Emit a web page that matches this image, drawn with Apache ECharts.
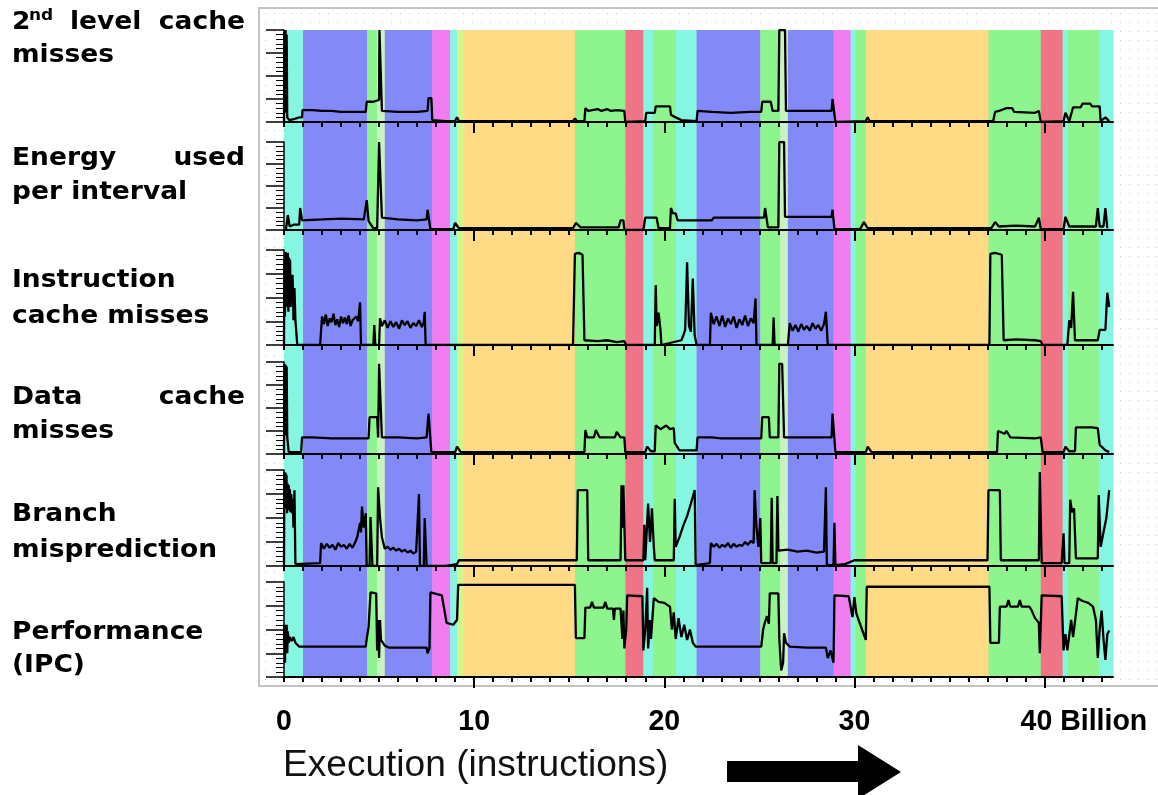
<!DOCTYPE html>
<html><head><meta charset="utf-8">
<script src="https://cdn.jsdelivr.net/npm/echarts@6/dist/echarts.min.js"></script>
<style>html,body{margin:0;padding:0;background:#fff}#c{width:1158px;height:795px}</style>
</head><body><div id="c"></div>
<script>
// ---------------- data ----------------
const xMax = 43.6; // billions of instructions shown
const tickValues = [0, 10, 20, 30, 40];
const tickLabels = ['0', '10', '20', '30', '40 Billion'];
const axisTitle = 'Execution (instructions)';

const panelLabelLines = [
  ['2nd level cache', 'misses'],
  ['Energy used', 'per interval'],
  ['Instruction', 'cache misses'],
  ['Data cache', 'misses'],
  ['Branch', 'misprediction'],
  ['Performance', '(IPC)']
];

// phase bands: start, end (billions), phase id
const bandStarts = [0, 1.0, 4.37, 4.9, 5.3, 7.79, 8.74, 9.1, 9.42, 15.3, 17.95, 18.9, 19.4, 20.6, 21.7, 25.05, 26.1, 26.5, 28.9, 29.8, 30.05, 30.6, 37.05, 39.8, 40.95, 41.2, 42.85];
const bandEnds   = [1.0, 4.37, 4.9, 5.3, 7.79, 8.74, 9.1, 9.42, 15.3, 17.95, 18.9, 19.4, 20.6, 21.7, 25.05, 26.1, 26.5, 28.9, 29.8, 30.05, 30.6, 37.05, 39.8, 40.95, 41.2, 42.85, 43.6];
const bandPhases = ['C','B','G','P','B','M','C','L','Y','G','R','C','G','C','B','G','P','B','M','C','G','Y','G','R','C','G','C'];

const l2Misses = [[0,0],[0.02,98],[0.05,10],[0.08,100],[0.11,20],[0.14,95],[0.17,5],[0.3,2],[0.5,3],[0.55,2],[0.8,5],[0.95,5],[0.97,13],[1.5,13],[2.0,12],[2.5,12],[3.0,11],[3.5,11],[4.3,11],[4.35,22],[4.7,22],[4.75,24],[5.0,24],[5.02,100],[5.12,100],[5.15,12],[6.0,11],[7.0,11],[7.55,12],[7.6,26],[7.75,26],[7.8,2],[8.5,1],[9.0,1],[9.1,5],[9.2,1],[15.2,1],[15.3,4],[15.4,1],[15.8,1],[15.85,15],[16.0,12],[16.5,14],[16.7,12],[17.0,14],[17.2,12],[17.5,13],[17.9,12],[17.95,0],[19.0,1],[19.05,10],[19.5,10],[19.55,17],[20.3,17],[20.35,8],[20.6,5],[20.9,2],[21.7,1],[21.75,12],[22.5,11],[23.5,10],[24.5,11],[25.1,11],[25.15,22],[25.6,22],[25.7,12],[26.0,12],[26.05,100],[26.35,100],[26.4,12],[27.5,12],[28.8,12],[28.85,25],[28.95,25],[29.0,0],[30.6,1],[30.7,5],[30.8,1],[37.3,1],[37.4,11],[37.6,12],[38.0,15],[38.3,15],[38.4,11],[39.5,10],[39.7,12],[39.8,0],[41.0,1],[41.1,10],[41.3,1],[41.5,16],[41.9,16],[42.0,20],[42.4,20],[42.5,17],[42.9,17],[42.95,1],[43.2,5],[43.4,1]];

const energy = [[0.1,0],[0.2,17],[0.3,4],[0.5,6],[0.8,6],[0.85,25],[0.95,11],[2.0,12],[3.0,13],[4.2,12],[4.3,12],[4.35,34],[4.45,10],[4.7,2],[4.9,2],[5.0,100],[5.1,100],[5.15,14],[6.0,12],[7.0,11],[7.5,12],[7.55,23],[7.65,23],[7.7,1],[8.9,1],[9.0,8],[9.2,2],[15.2,2],[15.35,8],[15.6,3],[17.6,3],[17.7,11],[17.85,11],[17.9,0],[18.9,0],[19.0,14],[19.6,14],[19.7,2],[20.3,2],[20.35,25],[20.45,19],[20.6,19],[20.7,11],[21.5,11],[22.5,11],[22.6,14],[24.6,14],[25.25,14],[25.3,25],[25.45,3],[26.0,3],[26.05,100],[26.3,100],[26.35,15],[27.5,15],[28.8,15],[28.85,23],[28.95,1],[30.3,1],[30.5,9],[30.7,2],[37.2,2],[37.4,9],[37.6,4],[38.5,5],[39.5,4],[39.7,14],[39.8,1],[41.0,1],[41.1,15],[41.3,4],[42.7,4],[42.8,25],[42.9,4],[43.1,4],[43.2,25],[43.3,2]];

const icacheMisses = [[0,0],[0.02,90],[0.05,30],[0.08,98],[0.11,40],[0.14,95],[0.17,50],[0.2,97],[0.23,35],[0.26,92],[0.29,55],[0.32,90],[0.35,40],[0.38,74],[0.42,60],[0.45,74],[0.5,26],[0.55,60],[0.6,26],[0.7,0],[1.9,0],[2.0,30],[2.1,22],[2.2,32],[2.3,20],[2.4,28],[2.5,24],[2.6,33],[2.7,21],[2.8,27],[2.9,19],[3.0,30],[3.1,23],[3.2,29],[3.3,22],[3.4,31],[3.5,20],[3.6,26],[3.7,24],[3.8,30],[3.9,25],[4.0,45],[4.05,0],[4.7,0],[4.75,21],[4.8,0],[5.0,0],[5.05,28],[5.15,20],[5.3,26],[5.45,18],[5.6,25],[5.75,19],[5.9,24],[6.05,17],[6.2,26],[6.35,21],[6.5,25],[6.65,18],[6.8,23],[6.95,20],[7.1,26],[7.25,19],[7.35,24],[7.4,35],[7.45,0],[15.2,0],[15.3,96],[15.5,97],[15.7,95],[15.8,5],[16.5,4],[17.0,5],[17.5,3],[17.9,4],[18.0,0],[19.5,0],[19.55,63],[19.6,20],[19.7,34],[19.8,16],[19.85,0],[20.9,5],[21.0,10],[21.1,16],[21.2,87],[21.3,20],[21.4,14],[21.5,70],[21.6,10],[21.7,0],[22.4,0],[22.45,34],[22.6,22],[22.75,30],[22.9,20],[23.05,31],[23.2,19],[23.35,28],[23.5,22],[23.65,30],[23.8,18],[23.95,27],[24.1,21],[24.25,31],[24.4,20],[24.55,28],[24.7,23],[24.8,49],[24.85,0],[25.7,0],[25.75,29],[25.8,0],[26.5,0],[26.6,23],[26.75,15],[26.9,21],[27.05,14],[27.2,22],[27.35,16],[27.5,20],[27.65,15],[27.8,23],[27.95,17],[28.1,21],[28.25,15],[28.4,22],[28.5,35],[28.6,0],[37.1,0],[37.15,96],[37.4,97],[37.75,95],[37.85,5],[38.5,6],[39.5,5],[39.8,4],[39.9,0],[41.2,0],[41.3,26],[41.4,18],[41.5,56],[41.6,5],[42.8,5],[42.9,16],[43.2,16],[43.3,55],[43.4,40]];

const dcacheMisses = [[0,0],[0.02,98],[0.05,20],[0.08,97],[0.11,30],[0.14,95],[0.17,18],[0.2,18],[0.25,2],[0.9,2],[0.95,18],[1.5,18],[2.5,17],[3.5,17],[4.45,17],[4.5,40],[4.9,40],[4.95,18],[5.0,98],[5.1,98],[5.15,18],[6.0,18],[7.0,17],[7.5,18],[7.6,44],[7.7,44],[7.75,2],[9.0,2],[9.1,8],[9.3,2],[15.8,2],[15.85,26],[15.95,18],[16.3,18],[16.4,26],[16.6,18],[17.0,18],[17.4,18],[17.5,24],[17.7,18],[17.9,18],[17.95,2],[19.0,2],[19.1,8],[19.3,3],[19.5,3],[19.55,31],[19.8,27],[20.1,31],[20.3,27],[20.5,28],[20.55,12],[20.8,4],[21.7,4],[21.75,18],[22.5,18],[23.0,17],[24.0,17],[25.1,17],[25.15,40],[25.5,40],[25.55,18],[26.0,18],[26.05,98],[26.2,98],[26.3,18],[27.5,18],[28.8,18],[28.85,44],[28.95,44],[29.0,2],[30.6,2],[30.7,8],[30.9,2],[37.5,2],[37.55,25],[37.9,22],[38.0,25],[38.2,18],[39.5,17],[39.8,18],[39.9,2],[41.0,2],[41.1,8],[41.3,3],[41.6,3],[41.65,29],[42.5,29],[42.8,28],[42.9,10],[43.2,4],[43.4,2]];

const branchMispred = [[0,0],[0.02,98],[0.05,60],[0.08,97],[0.1,70],[0.13,95],[0.16,55],[0.19,86],[0.22,58],[0.25,84],[0.28,60],[0.31,80],[0.34,56],[0.38,75],[0.42,55],[0.45,70],[0.5,40],[0.55,79],[0.6,2],[0.7,3],[1.9,3],[1.95,24],[2.1,18],[2.25,23],[2.4,19],[2.55,22],[2.7,17],[2.85,24],[3.0,20],[3.15,22],[3.3,18],[3.45,23],[3.6,19],[3.75,25],[3.85,30],[4.0,45],[4.05,35],[4.1,62],[4.2,40],[4.3,55],[4.35,0],[4.5,0],[4.55,51],[4.65,0],[4.9,0],[4.95,82],[5.05,50],[5.15,30],[5.3,18],[5.45,20],[5.6,17],[5.75,19],[5.9,16],[6.05,18],[6.2,15],[6.35,17],[6.5,14],[6.65,16],[6.8,13],[6.95,15],[7.05,13],[7.1,75],[7.15,0],[7.35,0],[7.4,50],[7.5,0],[8.5,0],[9.1,2],[9.2,6],[10.0,6],[10.05,7],[10.1,6],[12.1,6],[12.15,7],[12.2,6],[13.8,6],[13.85,7],[13.9,6],[15.4,6],[15.45,79],[15.95,79],[16.0,6],[17.7,6],[17.75,84],[17.8,40],[17.85,84],[17.9,45],[17.95,6],[18.9,6],[18.95,43],[19.0,6],[19.1,6],[19.15,65],[19.25,25],[19.35,60],[19.45,20],[19.5,6],[20.5,6],[20.55,70],[20.6,20],[20.8,30],[21.0,42],[21.2,52],[21.4,65],[21.6,79],[21.65,1],[22.4,3],[22.45,24],[22.6,20],[22.75,23],[22.9,19],[23.05,22],[23.2,20],[23.35,24],[23.5,19],[23.65,23],[23.8,20],[23.95,22],[24.1,21],[24.25,25],[24.4,22],[24.55,26],[24.7,24],[24.75,79],[24.85,40],[24.95,20],[25.05,50],[25.1,3],[25.6,3],[25.65,71],[25.7,3],[25.9,3],[25.95,73],[26.0,16],[26.5,17],[27.0,15],[27.5,16],[28.0,14],[28.4,15],[28.5,82],[28.55,1],[28.9,1],[28.95,45],[29.0,1],[29.5,2],[30.0,6],[31.5,6],[31.55,7],[31.6,6],[33.7,6],[33.75,7],[33.8,6],[35.4,6],[35.45,7],[35.5,6],[37.0,6],[37.05,79],[37.65,79],[37.7,6],[39.7,6],[39.75,98],[39.85,3],[40.9,3],[41.0,34],[41.05,3],[41.3,3],[41.35,69],[41.45,56],[41.55,60],[41.65,8],[42.8,8],[42.85,74],[42.95,20],[43.1,35],[43.25,50],[43.4,79]];

const ipc = [[0,36],[0.02,55],[0.05,15],[0.08,52],[0.11,30],[0.14,55],[0.17,25],[0.2,48],[0.25,36],[0.3,42],[0.4,38],[0.5,42],[0.6,36],[0.8,32],[1.5,32],[2.5,32],[3.5,32],[4.3,32],[4.35,40],[4.45,53],[4.5,53],[4.55,89],[4.85,88],[4.9,28],[4.95,60],[5.0,20],[5.05,60],[5.1,39],[5.3,33],[5.5,31],[6.5,31],[7.5,31],[7.55,25],[7.65,30],[7.7,89],[8.3,86],[8.55,57],[8.9,55],[9.1,60],[9.16,97],[15.3,97],[15.35,41],[15.8,41],[15.85,73],[16.1,73],[16.2,79],[16.3,73],[16.8,73],[16.9,79],[17.0,72],[17.3,72],[17.35,60],[17.4,72],[17.7,72],[17.8,40],[17.85,70],[17.9,30],[18.0,50],[18.05,86],[18.85,85],[18.9,28],[19.0,50],[19.1,94],[19.15,30],[19.25,60],[19.3,40],[19.45,83],[19.7,79],[20.0,78],[20.3,74],[20.4,50],[20.5,68],[20.6,40],[20.75,62],[20.9,42],[21.05,55],[21.2,39],[21.35,50],[21.5,36],[21.65,32],[22.5,32],[24.0,32],[25.1,32],[25.2,50],[25.3,58],[25.4,64],[25.5,56],[25.55,88],[26.0,88],[26.05,40],[26.15,7],[26.25,15],[26.3,46],[26.4,36],[26.6,32],[27.5,31],[28.5,31],[28.6,20],[28.75,28],[28.9,15],[28.95,86],[29.7,85],[29.9,63],[30.0,84],[30.1,67],[30.4,50],[30.6,39],[30.65,95],[37.1,95],[37.15,36],[37.6,36],[37.65,74],[38.0,74],[38.1,81],[38.2,74],[38.6,74],[38.7,81],[38.8,74],[39.2,74],[39.3,71],[39.5,62],[39.7,57],[39.75,25],[39.85,86],[40.9,85],[41.0,28],[41.1,45],[41.2,28],[41.4,60],[41.5,42],[41.6,58],[41.75,83],[42.0,80],[42.3,78],[42.55,74],[42.7,60],[42.8,20],[42.9,50],[43.0,70],[43.1,40],[43.2,18],[43.3,45],[43.4,49]];

const panelSeries = [l2Misses, energy, icacheMisses, dcacheMisses, branchMispred, ipc];

// ---------------- styling / layout ----------------
const phaseColors = { C:'#86f6e2', B:'#8489f8', G:'#8ef58e', P:'#c9f4c2', M:'#f07ef0', L:'#d6f48c', Y:'#ffdb86', R:'#ef7486' };
const plotLeft = 284, plotWidth = 829;
const panelBoxes = [ {top:30,h:92}, {top:142,h:88}, {top:250,h:95}, {top:362,h:92}, {top:470,h:96}, {top:582,h:95} ];
const labelCenters = [[22,55],[158,192],[280,316],[397,431],[514,550],[632,665]];

const minorTicks = []; for (let v = 0; v <= 43; v++) minorTicks.push(v);

const grids = [{ left: plotLeft, top: 30, width: plotWidth, height: 647 }];
const xAxes = [{ type:'value', gridIndex:0, min:0, max:xMax, show:false }];
const yAxes = [{ type:'value', gridIndex:0, min:0, max:1, show:false }];
const series = [{
  type: 'custom', xAxisIndex: 0, yAxisIndex: 0, z: 0, silent: true,
  data: bandStarts.map((s, i) => [s, bandEnds[i], i]),
  encode: { x: [0, 1] },
  renderItem: function (params, api) {
    const a = api.coord([api.value(0), 1]);
    const b = api.coord([api.value(1), 0]);
    return { type: 'rect', shape: { x: a[0], y: a[1], width: b[0] - a[0] + 0.5, height: b[1] - a[1] },
             style: { fill: phaseColors[bandPhases[api.value(2)]] } };
  }
}];

panelBoxes.forEach((p, i) => {
  const gi = i + 1;
  grids.push({ left: plotLeft, top: p.top, width: plotWidth, height: p.h });
  xAxes.push({ type:'value', gridIndex: gi, min:0, max:xMax, z:5,
    axisLine:{ show:true, lineStyle:{ color:'#000', width:2 } },
    axisTick:{ show:true, customValues: minorTicks, length:5, lineStyle:{ color:'#000', width:2 } },
    axisLabel:{ show:false }, splitLine:{ show:false } });
  xAxes.push({ type:'value', gridIndex: gi, min:0, max:xMax, z:5, position:'bottom',
    axisLine:{ show:false },
    axisTick:{ show:true, customValues: tickValues.slice(1), length:11, lineStyle:{ color:'#000', width:2 } },
    axisLabel:{ show:false }, splitLine:{ show:false } });
  yAxes.push({ type:'value', gridIndex: gi, min:0, max:100, interval:25, z:5,
    axisLine:{ show:true, lineStyle:{ color:'#000', width:1.5 } },
    axisTick:{ show:true, length:18, lineStyle:{ color:'#000', width:1.5 } },
    minorTick:{ show:true, splitNumber:5, length:8, lineStyle:{ color:'#000', width:1 } },
    axisLabel:{ show:false }, splitLine:{ show:false }, minorSplitLine:{ show:false } });
  series.push({ type:'line', xAxisIndex: 1 + 2*i, yAxisIndex: gi, data: panelSeries[i], z: 6,
    symbol:'none', showSymbol:false, silent:true, animation:false,
    lineStyle:{ color:'#000', width:2.3 } });
});

const chart = echarts.init(document.getElementById('c'), null, { renderer: 'canvas' });
chart.setOption({ animation:false, backgroundColor:'#fff', grid: grids, xAxis: xAxes, yAxis: yAxes, series: series });

// ---------------- decorations & text ----------------
const pc = document.createElement('canvas'); pc.width = 9; pc.height = 9;
const g2 = pc.getContext('2d'); g2.fillStyle = '#c6c6c6'; g2.fillRect(4, 4, 1, 1);

const labelFont = 'bold 25px "DejaVu Sans", sans-serif';
const sx = 1.06;
const gfx = [
  { type:'rect', z:-10, shape:{ x:259, y:8, width:920, height:678 }, style:{ fill:{ image: pc, repeat:'repeat' }, stroke:'#c4c4c4', lineWidth:2 } }
];
function txt(text, x, y, align, font, scaleX, color) {
  gfx.push({ type:'text', z:20, x:x, y:y, scaleX: scaleX || 1,
    style:{ text:text, font:font, fill: color || '#000', align: align || 'left', verticalAlign:'middle' } });
}
panelLabelLines.forEach((lines, i) => {
  lines.forEach((line, j) => {
    const y = labelCenters[i][j];
    if (i === 0 && j === 0) {
      txt('2', 12, y, 'left', labelFont, sx);
      txt('nd', 29, y - 6, 'left', 'bold 16px "DejaVu Sans", sans-serif', sx);
      txt('level', 70, y, 'left', labelFont, sx);
      txt('cache', 245, y, 'right', labelFont, sx);
    } else if (j === 0 && (i === 1 || i === 3)) {
      const w = line.split(' ');
      txt(w[0], 12, y, 'left', labelFont, sx);
      txt(w[w.length - 1], 245, y, 'right', labelFont, sx);
    } else {
      txt(line, 12, y, 'left', labelFont, sx);
    }
  });
});
const lastMinor = 11;
tickValues.forEach((v, k) => {
  const px = chart.convertToPixel({ xAxisIndex: lastMinor }, v);
  if (k === tickValues.length - 1) txt(tickLabels[k], px - 24, 722, 'left', 'bold 30px "Liberation Sans", Arial, sans-serif', 0.95);
  else txt(tickLabels[k], px, 722, 'center', 'bold 30px "Liberation Sans", Arial, sans-serif', 0.95);
});
txt(axisTitle, 283, 766, 'left', '36px "Liberation Sans", Arial, sans-serif', 1.03, '#111');
gfx.push({ type:'polygon', z:20, shape:{ points:[[727,761],[858,761],[858,745],[901,772],[858,799],[858,782],[727,782]] }, style:{ fill:'#000' } });

chart.setOption({ graphic: gfx });
</script></body></html>
